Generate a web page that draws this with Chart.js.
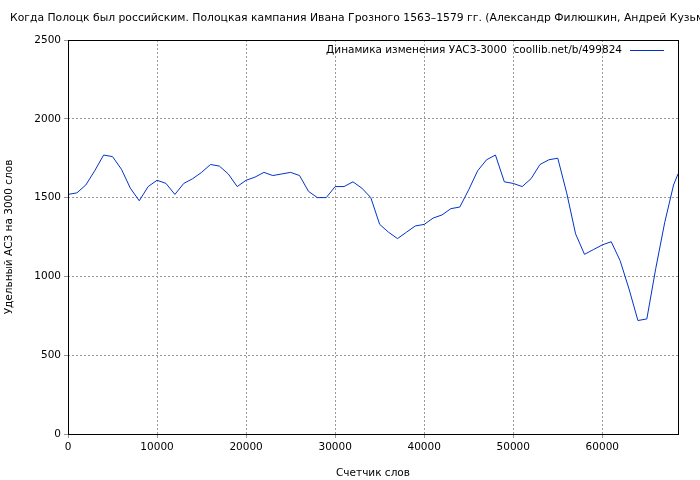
<!DOCTYPE html>
<html><head><meta charset="utf-8">
<script src="https://cdn.jsdelivr.net/npm/chart.js@4"></script>
<style>body{margin:0;background:#fff}#w{width:700px;height:480px}</style>
</head><body><div id="w"><canvas id="c"></canvas></div>
<script>
const words = [0,1000,2000,3000,4000,5000,6000,7000,8000,9000,10000,11000,12000,13000,14000,15000,16000,17000,18000,19000,20000,21000,22000,23000,24000,25000,26000,27000,28000,29000,30000,31000,32000,33000,34000,35000,36000,37000,38000,39000,40000,41000,42000,43000,44000,45000,46000,47000,48000,49000,50000,51000,52000,53000,54000,55000,56000,57000,58000,59000,60000,61000,62000,63000,64000,65000,66000,67000,68000,68500];
const uasz = [1520,1530,1580,1670,1770,1760,1680,1560,1480,1570,1610,1590,1520,1590,1620,1660,1710,1700,1650,1570,1610,1630,1660,1640,1650,1660,1640,1540,1500,1500,1570,1570,1600,1560,1500,1330,1280,1240,1280,1320,1330,1370,1390,1430,1440,1550,1670,1740,1770,1600,1590,1570,1620,1710,1740,1750,1530,1270,1140,1170,1200,1220,1100,920,720,730,1050,1340,1580,1650];
const xTicks = [0,10000,20000,30000,40000,50000,60000];
const yTicks = [0,500,1000,1500,2000,2500];
const titleText = "Когда Полоцк был российским. Полоцкая кампания Ивана Грозного 1563–1579 гг. (Александр Филюшкин, Андрей Кузьмин)";
const seriesLabel = "Динамика изменения УАСЗ-3000  coollib.net/b/499824";
const xTitle = "Счетчик слов", yTitle = "Удельный АСЗ на 3000 слов";
const F = "DejaVu Sans";
const titlePlugin = {id:'t', afterDraw(ch){const c=ch.ctx;c.save();c.font="10.8px '"+F+"'";c.fillStyle="#000";c.textBaseline="middle";c.fillText(titleText,10,18);
 c.font="10.5px '"+F+"'";c.textAlign="right";c.fillText(seriesLabel,622,50);c.strokeStyle="#0033cc";c.lineWidth=1;c.beginPath();c.moveTo(630,50.5);c.lineTo(664,50.5);c.stroke();
 const a=ch.chartArea;c.strokeStyle="#000";c.strokeRect(a.left+0.5,a.top+0.5,a.right-a.left,a.bottom-a.top);c.restore();}};
const fnt={family:F,size:10.5};
new Chart(document.getElementById('c'),{type:'line',
 data:{datasets:[{data:words.map((x,i)=>({x,y:uasz[i]})),borderColor:'#0033cc',borderWidth:1,pointRadius:0,tension:0}]},
 options:{responsive:true,maintainAspectRatio:false,animation:false,
  layout:{padding:{top:40,right:22,left:0,bottom:0}},
  plugins:{legend:{display:false},tooltip:{enabled:false}},
  scales:{
   x:{type:'linear',min:0,max:68500,afterBuildTicks:s=>{s.ticks=xTicks.map(v=>({value:v}));},afterFit:s=>{s.height=46;},
      ticks:{color:'#000',font:fnt,maxRotation:0,autoSkip:false,padding:3,callback:v=>String(v)},
      grid:{color:'#999',tickLength:4},border:{display:false,dash:[2,2]},
      title:{display:true,text:xTitle,color:'#000',font:fnt,padding:{top:3,bottom:0}}},
   y:{min:0,max:2500,afterBuildTicks:s=>{s.ticks=yTicks.map(v=>({value:v}));},afterFit:s=>{s.width=68;},
      ticks:{color:'#000',font:fnt,padding:3,callback:v=>String(v)},
      grid:{color:'#999',tickLength:4},border:{display:false,dash:[2,2]},
      title:{display:true,text:yTitle,color:'#000',font:fnt,padding:{top:3,bottom:6}}}
  }},plugins:[titlePlugin]});
</script></body></html>
